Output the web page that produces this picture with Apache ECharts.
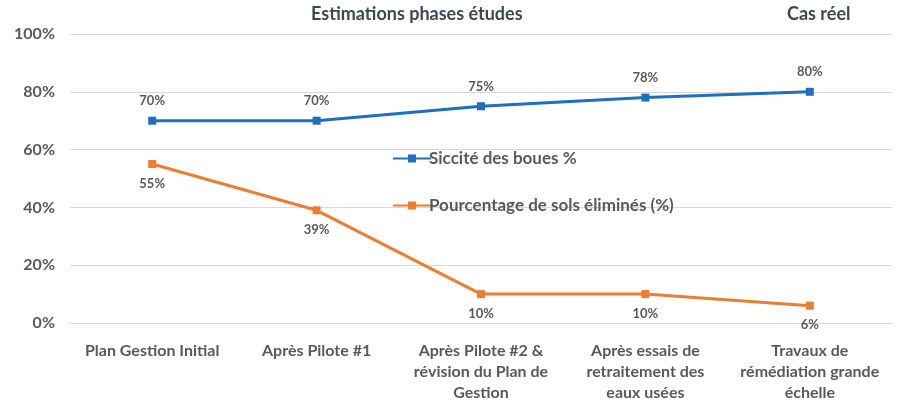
<!DOCTYPE html>
<html>
<head>
<meta charset="utf-8">
<script src="https://cdn.jsdelivr.net/npm/echarts@6/dist/echarts.min.js"></script>
<style>
  html, body { margin: 0; padding: 0; background: #fff; }
  #chart { width: 906px; height: 405px; }
</style>
</head>
<body>
<div id="chart"></div>
<script>
// étapes du projet
const categories = [
  'Plan Gestion Initial',
  'Après Pilote #1',
  'Après Pilote #2 &\nrévision du Plan de\nGestion',
  'Après essais de\nretraitement des\neaux usées',
  'Travaux de\nrémédiation grande\néchelle'
];
// siccité des boues (%)
const siccite = [70, 70, 75, 78, 80];
// pourcentage de sols éliminés (%)
const solsElimines = [55, 39, 10, 10, 6];
const yTicks = [0, 20, 40, 60, 80, 100];

const FONT = 'Lato, "Open Sans", sans-serif';
const GREY = '#595959';
const TITLE_STYLE = { fontFamily: FONT, fontSize: 18, fontWeight: 'bold', color: '#3d4756' };

const chart = echarts.init(document.getElementById('chart'));

chart.setOption({
  animation: false,
  textStyle: { fontFamily: FONT },
  title: [
    { text: 'Estimations phases études', left: 306, top: 0, textStyle: TITLE_STYLE },
    { text: 'Cas réel', left: 782, top: 0, textStyle: TITLE_STYLE }
  ],
  grid: { left: 70, right: 14, top: 34, bottom: 82 },
  legend: {
    orient: 'vertical',
    left: 387,
    top: 145,
    itemGap: 30,
    itemWidth: 38,
    itemHeight: 10,
    textStyle: {
      fontFamily: FONT, fontSize: 17, fontWeight: 'bold', color: GREY,
      padding: [0, 0, 0, -7]
    },
    data: ['Siccité des boues %', 'Pourcentage de sols éliminés (%)']
  },
  xAxis: {
    type: 'category',
    data: categories,
    boundaryGap: true,
    axisLine: { lineStyle: { color: '#d9d9d9' } },
    axisTick: { show: false },
    axisLabel: {
      margin: 17,
      interval: 0,
      fontSize: 16,
      fontWeight: 'bold',
      lineHeight: 21,
      color: GREY,
      fontFamily: FONT
    }
  },
  yAxis: {
    type: 'value',
    min: yTicks[0],
    max: yTicks[yTicks.length - 1],
    interval: 20,
    axisLine: { show: false },
    axisTick: { show: false },
    splitLine: { lineStyle: { color: '#d9d9d9' } },
    axisLabel: {
      formatter: '{value}%',
      fontSize: 16,
      fontWeight: 'bold',
      color: GREY,
      margin: 15,
      fontFamily: FONT
    }
  },
  series: [
    {
      name: 'Siccité des boues %',
      type: 'line',
      data: siccite,
      symbol: 'rect',
      symbolSize: 8,
      color: '#1f6fc0',
      lineStyle: { width: 3 },
      label: {
        show: true, position: 'top', distance: 9,
        formatter: '{c}%', fontSize: 13, fontWeight: 'bold', color: GREY, fontFamily: FONT
      }
    },
    {
      name: 'Pourcentage de sols éliminés (%)',
      type: 'line',
      data: solsElimines,
      symbol: 'rect',
      symbolSize: 8,
      color: '#ed7d31',
      lineStyle: { width: 3 },
      label: {
        show: true, position: 'bottom', distance: 9,
        formatter: '{c}%', fontSize: 13, fontWeight: 'bold', color: GREY, fontFamily: FONT
      }
    }
  ]
});
</script>
</body>
</html>
